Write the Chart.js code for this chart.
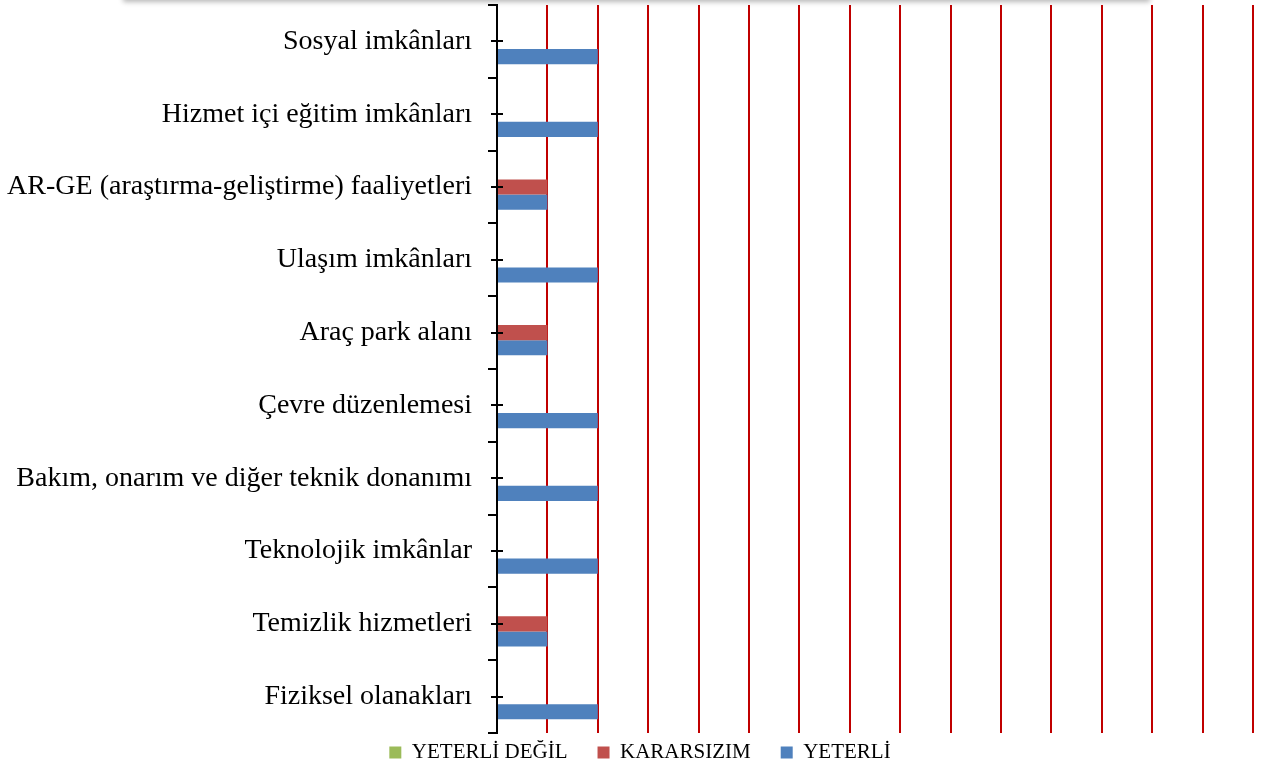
<!DOCTYPE html>
<html lang="tr">
<head>
<meta charset="utf-8">
<title>Fiziksel imkânlar</title>
<script src="https://cdn.jsdelivr.net/npm/chart.js@4.4.1/dist/chart.umd.min.js"></script>
<style>
  html, body { margin: 0; padding: 0; background: #fff; overflow: hidden; }
  #wrap { position: relative; width: 1267px; height: 774px; }
  #golge {
    position: absolute; top: -20px; left: 123px; width: 1027px; height: 20px;
    box-shadow: 0 2px 5px rgba(0, 0, 0, 0.28); background: #fff;
  }
</style>
</head>
<body>
<div id="wrap">
  <div id="golge"></div>
  <canvas id="grafik"></canvas>
</div>
<script>
// kategoriler yukaridan asagiya
const kategoriler = [
  "Sosyal imkânları",
  "Hizmet içi eğitim imkânları",
  "AR-GE (araştırma-geliştirme) faaliyetleri",
  "Ulaşım imkânları",
  "Araç park alanı",
  "Çevre düzenlemesi",
  "Bakım, onarım ve diğer teknik donanımı",
  "Teknolojik imkânlar",
  "Temizlik hizmetleri",
  "Fiziksel olanakları"
];

const yeterliDegil = [0, 0, 0, 0, 0, 0, 0, 0, 0, 0];
const kararsizim   = [0, 0, 1, 0, 1, 0, 0, 0, 1, 0];
const yeterli      = [2, 2, 1, 2, 1, 2, 2, 2, 1, 2];

const xMin = 0;
const xMax = 15;

// etiketlerin hizasindaki kucuk "+" cizgileri + lejant kaydirma
const artiIsaretleri = {
  id: "artiIsaretleri",
  afterLayout(chart) {
    // lejant satirini biraz yukari ve saga al (padding yatay aralik icin buyuk)
    const lg = chart.legend;
    if (lg) { lg.top -= 21; lg.left += 27; }
  },
  afterDraw(chart) {
    const y = chart.scales.y;
    const ctx = chart.ctx;
    const x0 = chart.chartArea.left;
    ctx.save();
    ctx.strokeStyle = "#000";
    ctx.lineWidth = 2;
    y.ticks.forEach((t, i) => {
      const py = Math.round(y.getPixelForTick(i));
      ctx.beginPath();
      ctx.moveTo(x0 - 6, py);
      ctx.lineTo(x0 + 6, py);
      ctx.stroke();
    });
    ctx.restore();
  }
};

const ctx = document.getElementById("grafik").getContext("2d");

new Chart(ctx, {
  type: "bar",
  data: {
    labels: kategoriler,
    datasets: [
      { label: "YETERLİ DEĞİL", data: yeterliDegil, backgroundColor: "#9BBB59" },
      { label: "KARARSIZIM", data: kararsizim, backgroundColor: "#C0504D" },
      { label: "YETERLİ", data: yeterli, backgroundColor: "#4F81BD" }
    ]
  },
  options: {
    indexAxis: "y",
    responsive: true,
    maintainAspectRatio: false,
    animation: false,
    layout: { padding: { top: 5, right: 14, left: 0, bottom: 0 } },
    datasets: {
      bar: { categoryPercentage: 0.625, barPercentage: 1.0, borderWidth: 0 }
    },
    plugins: {
      tooltip: { enabled: false },
      legend: {
        position: "bottom",
        maxHeight: 41,
        labels: {
          boxWidth: 12,
          boxHeight: 12,
          padding: 30,
          color: "#000",
          font: { family: "'Liberation Serif', 'Times New Roman', serif", size: 21 }
        }
      }
    },
    scales: {
      x: {
        min: xMin,
        max: xMax,
        ticks: { display: false, stepSize: 1 },
        border: { display: false },
        grid: { color: "#C00000", lineWidth: 2, drawTicks: false },
        afterFit(s) { s.height = 0; }
      },
      y: {
        ticks: {
          color: "#000",
          padding: 16,
          font: { family: "'Liberation Serif', 'Times New Roman', serif", size: 28 }
        },
        border: { display: true, color: "#000", width: 2 },
        grid: {
          offset: true,
          drawOnChartArea: false,
          drawTicks: true,
          tickLength: 9,
          color: "#000",
          lineWidth: 2
        },
        afterFit(s) {
          s.width = 497;
          s.paddingTop = 0;
          s.paddingBottom = 0;
        }
      }
    }
  },
  plugins: [artiIsaretleri]
});
</script>
</body>
</html>
